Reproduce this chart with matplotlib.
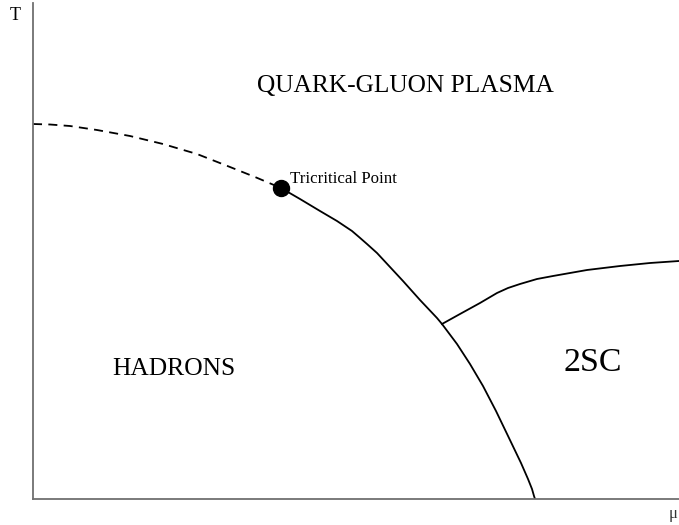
import matplotlib
matplotlib.use("Agg")
import matplotlib.pyplot as plt

W, H = 679, 525
# axes frame in pixels
X0, Y0, X1, Y1 = 33, 499, 679, 3

# curves (mu, T) in axis units
crossover_mu = [0, 17, 37, 64, 97, 130, 164, 197, 222, 248]
crossover_T = [375, 374.5, 373, 369, 363, 355, 345, 332, 322, 311]

first_order_mu = [248, 267, 287, 304, 319, 326, 334, 344, 370, 387, 404, 409,
                  424, 437, 450, 463, 476, 488, 495, 499, 501, 502]
first_order_T = [311, 300, 288, 278, 268, 262, 255, 246, 218, 199, 181, 175,
                 155, 135, 113, 88, 61, 36, 20, 10, 3, 0]

csc_mu = [409, 427, 447, 464, 475, 487, 504, 520, 554, 587, 617, 646]
csc_T = [175, 185, 196, 206, 211, 215, 220, 223, 229, 233, 236, 238]

tcp_mu = [248]
tcp_T = [311]

fig = plt.figure(figsize=(W / 100, H / 100), dpi=100)
ax = fig.add_axes([X0 / W, (H - Y0) / H, (X1 - X0) / W, (Y0 - Y1) / H])
ax.set_xlim(0, X1 - X0)
ax.set_ylim(0, Y0 - Y1)
for s in ["top", "right"]:
    ax.spines[s].set_visible(False)
for s in ["left", "bottom"]:
    ax.spines[s].set_color("#707070")
    ax.spines[s].set_linewidth(1.3)
ax.set_xticks([])
ax.set_yticks([])

ax.plot(crossover_mu, crossover_T, color="black", lw=1.3, ls=(0, (5, 3.5)),
        solid_joinstyle="round")
ax.plot(first_order_mu, first_order_T, color="black", lw=1.3, solid_joinstyle="round")
ax.plot(csc_mu, csc_T, color="black", lw=1.3, solid_joinstyle="round")
ax.plot(tcp_mu, tcp_T, "o", color="black", ms=11.5, clip_on=False)

serif = "Liberation Serif"
ax.text(405.5 - X0, Y0 - 86, "QUARK-GLUON PLASMA", family=serif, fontsize=18.3,
        ha="center", va="center")
ax.text(174 - X0, Y0 - 369, "HADRONS", family=serif, fontsize=18.4,
        ha="center", va="center")
ax.text(593 - X0, Y0 - 363, "2SC", family=serif, fontsize=24.4,
        ha="center", va="center")
ax.text(290 - X0, Y0 - 179, "Tricritical Point", family=serif, fontsize=12.2,
        ha="left", va="center")

fig.text(15.5 / W, 1 - 16 / H, "T", family=serif, fontsize=13, ha="center", va="center")
fig.text(673 / W, 1 - 514 / H, "μ", family=serif, fontsize=12, ha="center", va="center",
         color="#333333")

fig.savefig("out.png", dpi=100)
